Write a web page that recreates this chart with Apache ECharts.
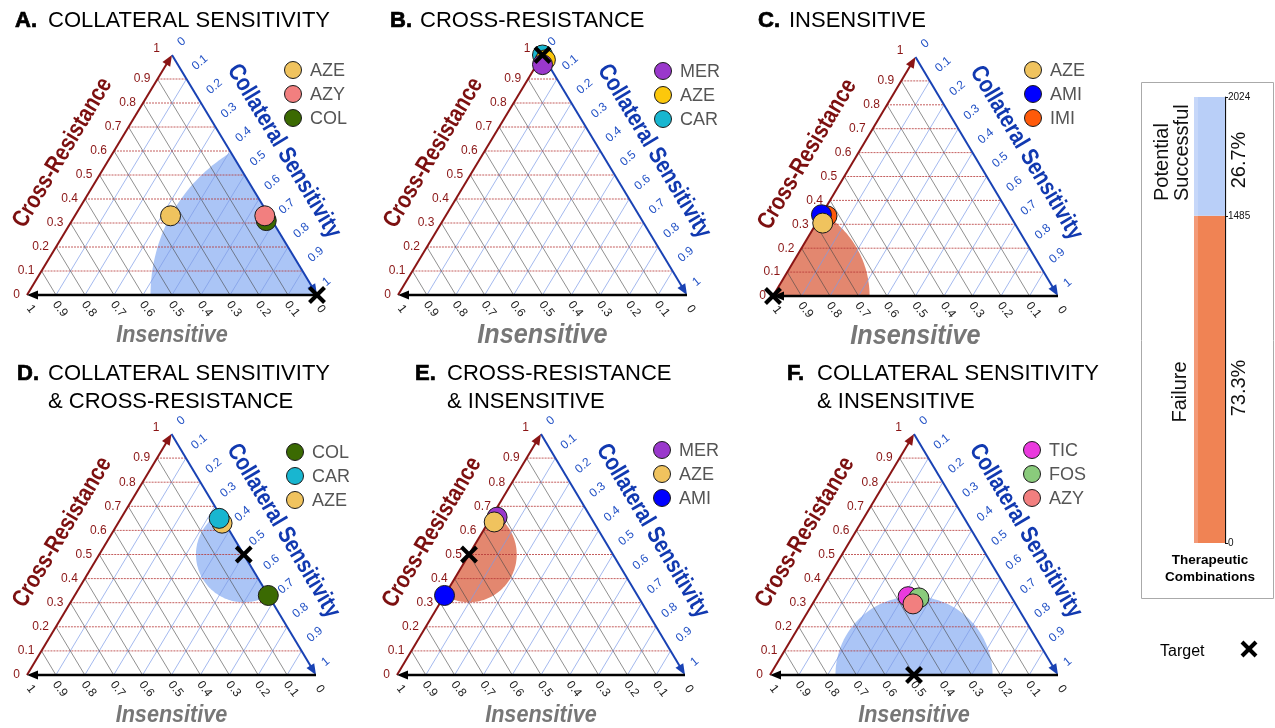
<!DOCTYPE html>
<html>
<head>
<meta charset="utf-8">
<script src="https://cdn.jsdelivr.net/npm/echarts@6/dist/echarts.min.js"></script>
<style>
  html, body { margin: 0; padding: 0; background: #ffffff; }
  #chart { width: 1275px; height: 728px; }
</style>
</head>
<body>
<div id="chart"></div>
<script>
// ---- Data -------------------------------------------------------------
// Ternary axis ticks (shared by all three edges of every panel)
const TICKS = [0, 0.1, 0.2, 0.3, 0.4, 0.5, 0.6, 0.7, 0.8, 0.9, 1];
const TICK_LABELS = ['0', '0.1', '0.2', '0.3', '0.4', '0.5', '0.6', '0.7', '0.8', '0.9', '1'];

// Drug responses: [drug, cross-resistance, collateral sensitivity]
// (insensitive = 1 - CR - CS); listed in drawing order
const pointsA = [['AZE', 0.33, 0.33], ['COL', 0.31, 0.67], ['AZY', 0.33, 0.655]];
const pointsB = [['CAR', 1.0, 0.0], ['AZE', 0.98, 0.02], ['MER', 0.96, 0.02]];
const pointsC = [['IMI', 0.335, 0.022], ['AMI', 0.34, 0.0], ['AZE', 0.305, 0.022]];
const pointsD = [['AZE', 0.63, 0.36], ['CAR', 0.65, 0.34], ['COL', 0.33, 0.67]];
const pointsE = [['AMI', 0.33, 0.0], ['MER', 0.655, 0.02], ['AZE', 0.635, 0.02]];
const pointsF = [['TIC', 0.325, 0.317], ['FOS', 0.32, 0.357], ['AZY', 0.295, 0.349]];

// Target response of each panel: [cross-resistance, collateral sensitivity]
const targetA = [0, 1];
const targetB = [1, 0];
const targetC = [0, 0];
const targetD = [0.5, 0.5];
const targetE = [0.5, 0];
const targetF = [0, 0.5];

// Legend order of each panel
const legendA = ['AZE', 'AZY', 'COL'];
const legendB = ['MER', 'AZE', 'CAR'];
const legendC = ['AZE', 'AMI', 'IMI'];
const legendD = ['COL', 'CAR', 'AZE'];
const legendE = ['MER', 'AZE', 'AMI'];
const legendF = ['TIC', 'FOS', 'AZY'];

// Outcome of each panel's target region
const OUTCOMES = ['success', 'failure', 'failure', 'success', 'failure', 'success'];

// Panel titles: [letter, line 1, optional line 2]
const TITLES = [
  ['A.', 'COLLATERAL SENSITIVITY'],
  ['B.', 'CROSS-RESISTANCE'],
  ['C.', 'INSENSITIVE'],
  ['D.', 'COLLATERAL SENSITIVITY', '& CROSS-RESISTANCE'],
  ['E.', 'CROSS-RESISTANCE', '& INSENSITIVE'],
  ['F.', 'COLLATERAL SENSITIVITY', '& INSENSITIVE']
];

// Summary of therapeutic combinations
const COMBO_TOTAL = 2024;
const COMBO_FAILURE = 1485;
const COMBO_TICKS = [0, 1485, 2024];
const COMBO_SHARES = ['73.3%', '26.7%'];

// ---- Styling ----------------------------------------------------------
const FONT = "'Liberation Sans', Arial, sans-serif";
const DRUG_COLORS = {
  AZE: '#f0c35e', AZY: '#f27f7f', COL: '#3b6a02', MER: '#9a38cc',
  CAR: '#18b6d0', AMI: '#0000ff', IMI: '#ff5a0a', TIC: '#ea3ade', FOS: '#8acb7c'
};
const PANEL_COLORS = [DRUG_COLORS, Object.assign({}, DRUG_COLORS, { AZE: '#fcc80c' }),
  DRUG_COLORS, DRUG_COLORS, DRUG_COLORS, DRUG_COLORS];
const REGION_COLORS = { success: '#abc5f6', failure: '#e3876f' };
const CR_COLOR = '#8a1515';
const CS_COLOR = '#1942b4';

// Triangle boxes and furniture positions
const LAYOUT = [
  { left: 27, top: 55, width: 290, height: 240, titleX: 15, textX: 48, titleY: 21, legX: 293, legY: 70, baseTitle: 24 },
  { left: 398, top: 55, width: 289, height: 240, titleX: 390, textX: 420, titleY: 21, legX: 663, legY: 71, baseTitle: 28 },
  { left: 773, top: 57, width: 285, height: 239, titleX: 758, textX: 789, titleY: 21, legX: 1033, legY: 70, baseTitle: 28 },
  { left: 27, top: 434, width: 289, height: 241, titleX: 17, textX: 48, titleY: 374, legX: 295, legY: 452, baseTitle: 24 },
  { left: 397, top: 434, width: 288, height: 241, titleX: 415, textX: 447, titleY: 374, legX: 662, legY: 450, baseTitle: 24 },
  { left: 770, top: 434, width: 288, height: 241, titleX: 787, textX: 817, titleY: 374, legX: 1032, legY: 450, baseTitle: 24 }
];

const PANEL_POINTS = [pointsA, pointsB, pointsC, pointsD, pointsE, pointsF];
const PANEL_TARGETS = [targetA, targetB, targetC, targetD, targetE, targetF];
const PANEL_LEGENDS = [legendA, legendB, legendC, legendD, legendE, legendF];

// Ternary (CR, CS) -> cartesian (x along base, y = CR height)
const toXY = (cr, cs) => [cs + cr / 2, cr];

function lineIntersect(p, q, a, b) {
  const dx = q[0] - p[0], dy = q[1] - p[1];
  const ex = b[0] - a[0], ey = b[1] - a[1];
  const den = dx * ey - dy * ex;
  const t = den === 0 ? 0 : ((a[0] - p[0]) * ey - (a[1] - p[1]) * ex) / den;
  return [p[0] + t * dx, p[1] + t * dy];
}

// Sutherland–Hodgman clipping of a polygon against a convex polygon
function clipPolygon(subject, clip) {
  let out = subject;
  const cx = clip.reduce((s, v) => s + v[0], 0) / clip.length;
  const cy = clip.reduce((s, v) => s + v[1], 0) / clip.length;
  for (let e = 0; e < clip.length; e++) {
    const a = clip[e], b = clip[(e + 1) % clip.length];
    const side = p => (b[0] - a[0]) * (p[1] - a[1]) - (b[1] - a[1]) * (p[0] - a[0]);
    const ref = side([cx, cy]) >= 0 ? 1 : -1;
    const inside = p => side(p) * ref >= -1e-9;
    const input = out;
    out = [];
    for (let k = 0; k < input.length; k++) {
      const cur = input[k], prev = input[(k + input.length - 1) % input.length];
      const ci = inside(cur), pi = inside(prev);
      if (ci) {
        if (!pi) out.push(lineIntersect(prev, cur, a, b));
        out.push(cur);
      } else if (pi) {
        out.push(lineIntersect(prev, cur, a, b));
      }
    }
    if (!out.length) break;
  }
  return out;
}

// ---- Series builders ---------------------------------------------------
// Target zone: circle around the target reaching the farthest drug, clipped to the triangle
function regionSeries(i) {
  const pts = PANEL_POINTS[i];
  const tg = PANEL_TARGETS[i];
  return {
    type: 'custom', xAxisIndex: i, yAxisIndex: i, silent: true, z: 1, clip: false,
    data: [toXY(tg[0], tg[1])],
    renderItem(params, api) {
      const c = api.coord([api.value(0), api.value(1)]);
      const tri = [api.coord([0, 0]), api.coord([1, 0]), api.coord([0.5, 1])];
      let r = 0;
      pts.forEach(p => {
        const q = api.coord(toXY(p[1], p[2]));
        r = Math.max(r, Math.hypot(q[0] - c[0], q[1] - c[1]));
      });
      const circle = [];
      for (let k = 0; k < 240; k++) {
        const a = k / 240 * Math.PI * 2;
        circle.push([c[0] + r * Math.cos(a), c[1] + r * Math.sin(a)]);
      }
      const poly = clipPolygon(circle, tri);
      return { type: 'polygon', shape: { points: poly }, style: { fill: REGION_COLORS[OUTCOMES[i]] } };
    }
  };
}

function gridSeries(i) {
  const data = [];
  TICKS.slice(1, -1).forEach(t => {
    data.push([t / 2, t, 1 - t / 2, t, 0]);              // constant cross-resistance
    data.push([1 - t, 0, (1 - t) / 2, 1 - t, 1]);        // constant insensitive
    data.push([t, 0, t + (1 - t) / 2, 1 - t, 2]);        // constant collateral sensitivity
  });
  const styles = [
    { stroke: '#b53535', lineWidth: 0.8, lineDash: [2, 1] },
    { stroke: '#444444', lineWidth: 0.6 },
    { stroke: '#7d9be6', lineWidth: 0.7 }
  ];
  return {
    type: 'custom', xAxisIndex: i, yAxisIndex: i, silent: true, z: 2, clip: false, data,
    renderItem(params, api) {
      const p1 = api.coord([api.value(0), api.value(1)]);
      const p2 = api.coord([api.value(2), api.value(3)]);
      return {
        type: 'line',
        shape: { x1: p1[0], y1: p1[1], x2: p2[0], y2: p2[1] },
        style: styles[api.value(4)]
      };
    }
  };
}

function edgeSeries(i) {
  const data = [[0, 0, 0.5, 1, 0], [0.5, 1, 1, 0, 1], [1, 0, 0, 0, 2]];
  const colors = [CR_COLOR, CS_COLOR, '#000000'];
  const widths = [2, 2, 2.4];
  return {
    type: 'custom', xAxisIndex: i, yAxisIndex: i, silent: true, z: 3, clip: false, data,
    renderItem(params, api) {
      const p1 = api.coord([api.value(0), api.value(1)]);
      const p2 = api.coord([api.value(2), api.value(3)]);
      const k = api.value(4);
      const len = Math.hypot(p2[0] - p1[0], p2[1] - p1[1]);
      const ux = (p2[0] - p1[0]) / len, uy = (p2[1] - p1[1]) / len;
      const hl = 11, hw = 4.5;
      const bx = p2[0] - ux * hl, by = p2[1] - uy * hl;
      return {
        type: 'group',
        children: [
          { type: 'line', shape: { x1: p1[0], y1: p1[1], x2: bx + ux * 2, y2: by + uy * 2 },
            style: { stroke: colors[k], lineWidth: widths[k] } },
          { type: 'polygon',
            shape: { points: [[p2[0], p2[1]], [bx - uy * hw, by + ux * hw], [bx + uy * hw, by - ux * hw]] },
            style: { fill: colors[k] } }
        ]
      };
    }
  };
}

function tickSeries(i) {
  const data = [];
  TICKS.forEach((t, k) => {
    data.push([t / 2, t, 0, k]);             // cross-resistance, left edge
    data.push([0.5 + t / 2, 1 - t, 1, k]);   // collateral sensitivity, right edge
    data.push([1 - t, 0, 2, k]);             // insensitive, base
  });
  return {
    type: 'custom', xAxisIndex: i, yAxisIndex: i, silent: true, z: 3, clip: false, data,
    renderItem(params, api) {
      const p = api.coord([api.value(0), api.value(1)]);
      const kind = api.value(2), k = api.value(3);
      const text = TICK_LABELS[k];
      if (kind === 0) {
        const top = k === TICKS.length - 1;
        return { type: 'text', x: p[0] - (top ? 12 : 7), y: p[1] - (top ? 6 : 0),
          style: { text, fill: CR_COLOR, font: '12px ' + FONT, align: 'right', verticalAlign: 'middle' } };
      }
      if (kind === 1) {
        return { type: 'text', x: p[0] + 7, y: p[1] - 11, rotation: 40 * Math.PI / 180,
          style: { text, fill: '#2352c6', font: '12px ' + FONT, align: 'left', verticalAlign: 'middle' } };
      }
      return { type: 'text', x: p[0] + 4, y: p[1] + 14, rotation: -52 * Math.PI / 180,
        style: { text, fill: '#222222', font: '12px ' + FONT, align: 'center', verticalAlign: 'middle' } };
    }
  };
}

function pointSeries(i) {
  const colors = PANEL_COLORS[i];
  return {
    type: 'scatter', xAxisIndex: i, yAxisIndex: i, silent: true, z: 5, clip: false,
    symbolSize: 20,
    data: PANEL_POINTS[i].map(p => ({
      name: p[0], value: toXY(p[1], p[2]),
      itemStyle: { color: colors[p[0]], borderColor: '#1a1a1a', borderWidth: 1, opacity: 1 }
    }))
  };
}

function crossShape(cx, cy, s, w) {
  return {
    type: 'group',
    children: [
      { type: 'line', shape: { x1: cx - s, y1: cy - s, x2: cx + s, y2: cy + s }, style: { stroke: '#000', lineWidth: w } },
      { type: 'line', shape: { x1: cx - s, y1: cy + s, x2: cx + s, y2: cy - s }, style: { stroke: '#000', lineWidth: w } }
    ]
  };
}

function targetSeries(i) {
  const tg = PANEL_TARGETS[i];
  return {
    type: 'custom', xAxisIndex: i, yAxisIndex: i, silent: true, z: 8, clip: false,
    data: [toXY(tg[0], tg[1])],
    renderItem(params, api) {
      const c = api.coord([api.value(0), api.value(1)]);
      return crossShape(c[0], c[1], 7.5, 4);
    }
  };
}

// ---- Assemble ------------------------------------------------------------
const grid = [], xAxis = [], yAxis = [], series = [], graphic = [];

LAYOUT.forEach((L, i) => {
  grid.push({ left: L.left, top: L.top, width: L.width, height: L.height });
  xAxis.push({ type: 'value', gridIndex: i, min: 0, max: 1, show: false });
  yAxis.push({ type: 'value', gridIndex: i, min: 0, max: 1, show: false });
  series.push(regionSeries(i), gridSeries(i), edgeSeries(i), tickSeries(i), pointSeries(i), targetSeries(i));

  // Panel title
  const T = TITLES[i];
  graphic.push({ type: 'text', x: L.titleX, y: L.titleY,
    style: { text: T[0], font: 'bold 22px ' + FONT, fill: '#000', stroke: '#000', lineWidth: 0.7,
      align: 'left', verticalAlign: 'middle' } });
  graphic.push({ type: 'text', x: L.textX, y: L.titleY,
    style: { text: T[1], font: '22px ' + FONT, fill: '#000', align: 'left', verticalAlign: 'middle' } });
  if (T[2]) {
    graphic.push({ type: 'text', x: L.textX, y: L.titleY + 28,
      style: { text: T[2], font: '22px ' + FONT, fill: '#000', align: 'left', verticalAlign: 'middle' } });
  }

  // Edge titles (condensed bold lettering)
  const ang = Math.atan2(L.height, L.width / 2);
  const nx = Math.sin(ang), ny = Math.cos(ang);
  const lmx = L.left + L.width / 4, lmy = L.top + L.height / 2;
  const rmx = L.left + L.width * 3 / 4;
  graphic.push({ type: 'text', x: lmx - 43 * nx, y: lmy - 43 * ny, rotation: ang, scaleX: 0.84,
    style: { text: 'Cross-Resistance', font: 'bold 24px ' + FONT, fill: '#7c1010', align: 'center', verticalAlign: 'middle' } });
  graphic.push({ type: 'text', x: rmx + 46 * nx, y: lmy - 46 * ny, rotation: -ang, scaleX: 0.84,
    style: { text: 'Collateral Sensitivity', font: 'bold 24px ' + FONT, fill: '#1139b0', align: 'center', verticalAlign: 'middle' } });
  graphic.push({ type: 'text', x: L.left + L.width / 2, y: L.top + L.height + 40, scaleX: 0.9,
    style: { text: 'Insensitive', font: 'italic bold ' + L.baseTitle + 'px ' + FONT, fill: '#777777', align: 'center', verticalAlign: 'middle' } });

  // Legend
  PANEL_LEGENDS[i].forEach((name, k) => {
    const cy = L.legY + k * 24;
    graphic.push({ type: 'circle', shape: { cx: L.legX, cy, r: 8.5 },
      style: { fill: PANEL_COLORS[i][name], stroke: '#1a1a1a', lineWidth: 1 } });
    graphic.push({ type: 'text', x: L.legX + 17, y: cy + 1,
      style: { text: name, font: '18px ' + FONT, fill: '#555555', align: 'left', verticalAlign: 'middle' } });
  });
});

// Summary bar of therapeutic combinations
const stripFill = (edge, main) => new echarts.graphic.LinearGradient(0, 0, 1, 0, [
  { offset: 0, color: edge }, { offset: 0.12, color: edge },
  { offset: 0.12, color: main }, { offset: 1, color: main }
]);
const gi = LAYOUT.length;
grid.push({ left: 1194, top: 97, width: 31, height: 446 });
xAxis.push({ type: 'category', gridIndex: gi, data: ['combinations'], show: false });
yAxis.push({
  type: 'value', gridIndex: gi, position: 'right', min: 0, max: COMBO_TOTAL,
  axisLine: { show: true, lineStyle: { color: '#111', width: 1.2 } },
  axisTick: { show: true, length: 3, customValues: COMBO_TICKS, lineStyle: { color: '#111' } },
  axisLabel: { show: true, customValues: COMBO_TICKS, color: '#111', fontSize: 10, fontFamily: FONT, margin: 3,
    formatter: v => String(v) },
  splitLine: { show: false }
});
series.push(
  { type: 'bar', xAxisIndex: gi, yAxisIndex: gi, stack: 'combos', barWidth: '100%', silent: true,
    data: [COMBO_FAILURE], itemStyle: { color: stripFill('#f39a78', '#f08354') } },
  { type: 'bar', xAxisIndex: gi, yAxisIndex: gi, stack: 'combos', barWidth: '100%', silent: true,
    data: [COMBO_TOTAL - COMBO_FAILURE], itemStyle: { color: stripFill('#c6d7f9', '#b9cff8') } }
);

graphic.push(
  { type: 'rect', shape: { x: 1141.5, y: 82.5, width: 132, height: 516 }, style: { fill: 'none', stroke: '#aaaaaa', lineWidth: 1 } },
  { type: 'text', x: 1162, y: 201, rotation: Math.PI / 2,
    style: { text: 'Potential', font: '20px ' + FONT, fill: '#111', align: 'left', verticalAlign: 'middle' } },
  { type: 'text', x: 1182, y: 201, rotation: Math.PI / 2,
    style: { text: 'Successful', font: '20px ' + FONT, fill: '#111', align: 'left', verticalAlign: 'middle' } },
  { type: 'text', x: 1239, y: 160, rotation: Math.PI / 2,
    style: { text: COMBO_SHARES[1], font: '20px ' + FONT, fill: '#111', align: 'center', verticalAlign: 'middle' } },
  { type: 'text', x: 1180, y: 392, rotation: Math.PI / 2,
    style: { text: 'Failure', font: '20px ' + FONT, fill: '#111', align: 'center', verticalAlign: 'middle' } },
  { type: 'text', x: 1239, y: 388, rotation: Math.PI / 2,
    style: { text: COMBO_SHARES[0], font: '20px ' + FONT, fill: '#111', align: 'center', verticalAlign: 'middle' } },
  { type: 'text', x: 1210, y: 569,
    style: { text: 'Therapeutic\nCombinations', font: 'bold 13.5px ' + FONT, lineHeight: 17, fill: '#000', align: 'center', verticalAlign: 'middle' } },
  { type: 'text', x: 1160, y: 652,
    style: { text: 'Target', font: '16px ' + FONT, fill: '#000', align: 'left', verticalAlign: 'middle' } },
  crossShape(1249, 649, 7, 4)
);

const chart = echarts.init(document.getElementById('chart'), null, { renderer: 'canvas' });
chart.setOption({
  animation: false,
  backgroundColor: '#ffffff',
  grid, xAxis, yAxis, series,
  graphic: { elements: graphic }
});
</script>
</body>
</html>
